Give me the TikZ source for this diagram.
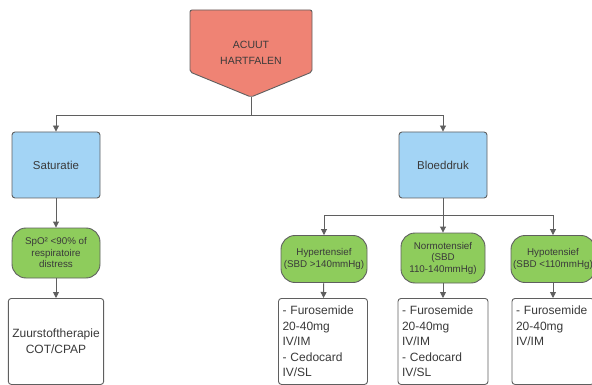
\documentclass[tikz,border=0pt]{standalone}
\usepackage{fontspec}
\setmainfont{Liberation Sans}
\usetikzlibrary{positioning,arrows.meta}

\definecolor{alarmfill}{HTML}{EF8374}
\definecolor{checkfill}{HTML}{A3D4F5}
\definecolor{condfill}{HTML}{8ECC5C}
\definecolor{edgegray}{HTML}{5F5F5F}
\definecolor{inkgray}{HTML}{3A3A3A}

\tikzset{
  check/.style={draw=edgegray,fill=checkfill,rounded corners=3pt,line width=0.9pt,
    minimum width=88pt,minimum height=66pt,text=inkgray,font=\fontsize{11.5}{14}\selectfont},
  cond/.style={draw=edgegray,fill=condfill,rounded corners=14pt,line width=0.9pt,
    minimum width=86pt,minimum height=47pt,inner sep=1pt,align=center,text=inkgray,
    font=\fontsize{9.8}{11.5}\selectfont},
  therapy/.style={draw=edgegray,fill=white,rounded corners=3pt,line width=0.9pt,
    minimum height=86pt,anchor=north,inner sep=4pt,text=inkgray,
    font=\fontsize{12}{15.5}\selectfont},
  flow/.style={draw=edgegray,line width=0.9pt,-{Triangle[length=6pt,width=6pt]}}
}

\begin{document}
\begin{tikzpicture}[x=1pt,y=-1pt]
  \useasboundingbox (0,0) rectangle (592,385);
  \clip (0,0) rectangle (592,385);

  % start
  \draw[edgegray,fill=alarmfill,line width=0.9pt,rounded corners=2pt]
    (190,10) -- (312,10) -- (312,72) -- (251,97) -- (190,72) -- cycle;
  \node[text=inkgray,align=center,font=\fontsize{10.5}{16}\selectfont] (acuut) at (251,53) {ACUUT\\HARTFALEN};
  \coordinate (tip) at (251,97);
  \coordinate (split) at (251,115);

  % checks
  \node[check] (sat) at (56,165) {Saturatie};
  \node[check] (bloed) at (443,165) {Bloeddruk};

  \draw[flow] (tip) -- (split) -| (sat.north);
  \draw[flow] (split) -| (bloed.north);

  % conditions
  \node[cond,minimum width=88pt,minimum height=50pt] (spo) at (56,253) {SpO² <90\% of\\respiratoire\\distress};
  \node[cond] (hyper) at (324,259) {Hypertensief\\(SBD >140mmHg)};
  \node[cond,minimum width=84pt,minimum height=50pt] (normo) at (443,258) {Normotensief\\(SBD\\110-140mmHg)};
  \node[cond,minimum width=84pt] (hypo) at (553,259) {Hypotensief\\(SBD <110mmHg)};

  \coordinate (bsplit) at (443,215);
  \draw[flow] (sat) -- (spo);
  \draw[flow] (bloed) -- (bsplit) -| (hyper.north);
  \draw[flow] (bsplit) -- (normo);
  \draw[flow] (bsplit) -| (hypo.north);

  % therapy
  \node[therapy,minimum width=88pt,align=center] (zuur) at (56,298) {Zuurstoftherapie\\COT/CPAP};
  \node[therapy,minimum width=89pt,text width=81pt,align=left] (furo1) at (323,298)
    {- Furosemide\\20-40mg\\IV/IM\\- Cedocard\\IV/SL};
  \node[therapy,minimum width=90pt,text width=82pt,align=left] (furo2) at (443,298)
    {- Furosemide\\20-40mg\\IV/IM\\- Cedocard\\IV/SL};
  \node[therapy,minimum width=82pt,text width=74pt,align=left] (furo3) at (553,298)
    {- Furosemide\\20-40mg\\IV/IM\\\phantom{I}\\\phantom{I}};

  \draw[flow] (spo) -- (zuur);
  \draw[flow] (hyper) -- (furo1);
  \draw[flow] (normo) -- (furo2);
  \draw[flow] (hypo) -- (furo3);
\end{tikzpicture}
\end{document}
